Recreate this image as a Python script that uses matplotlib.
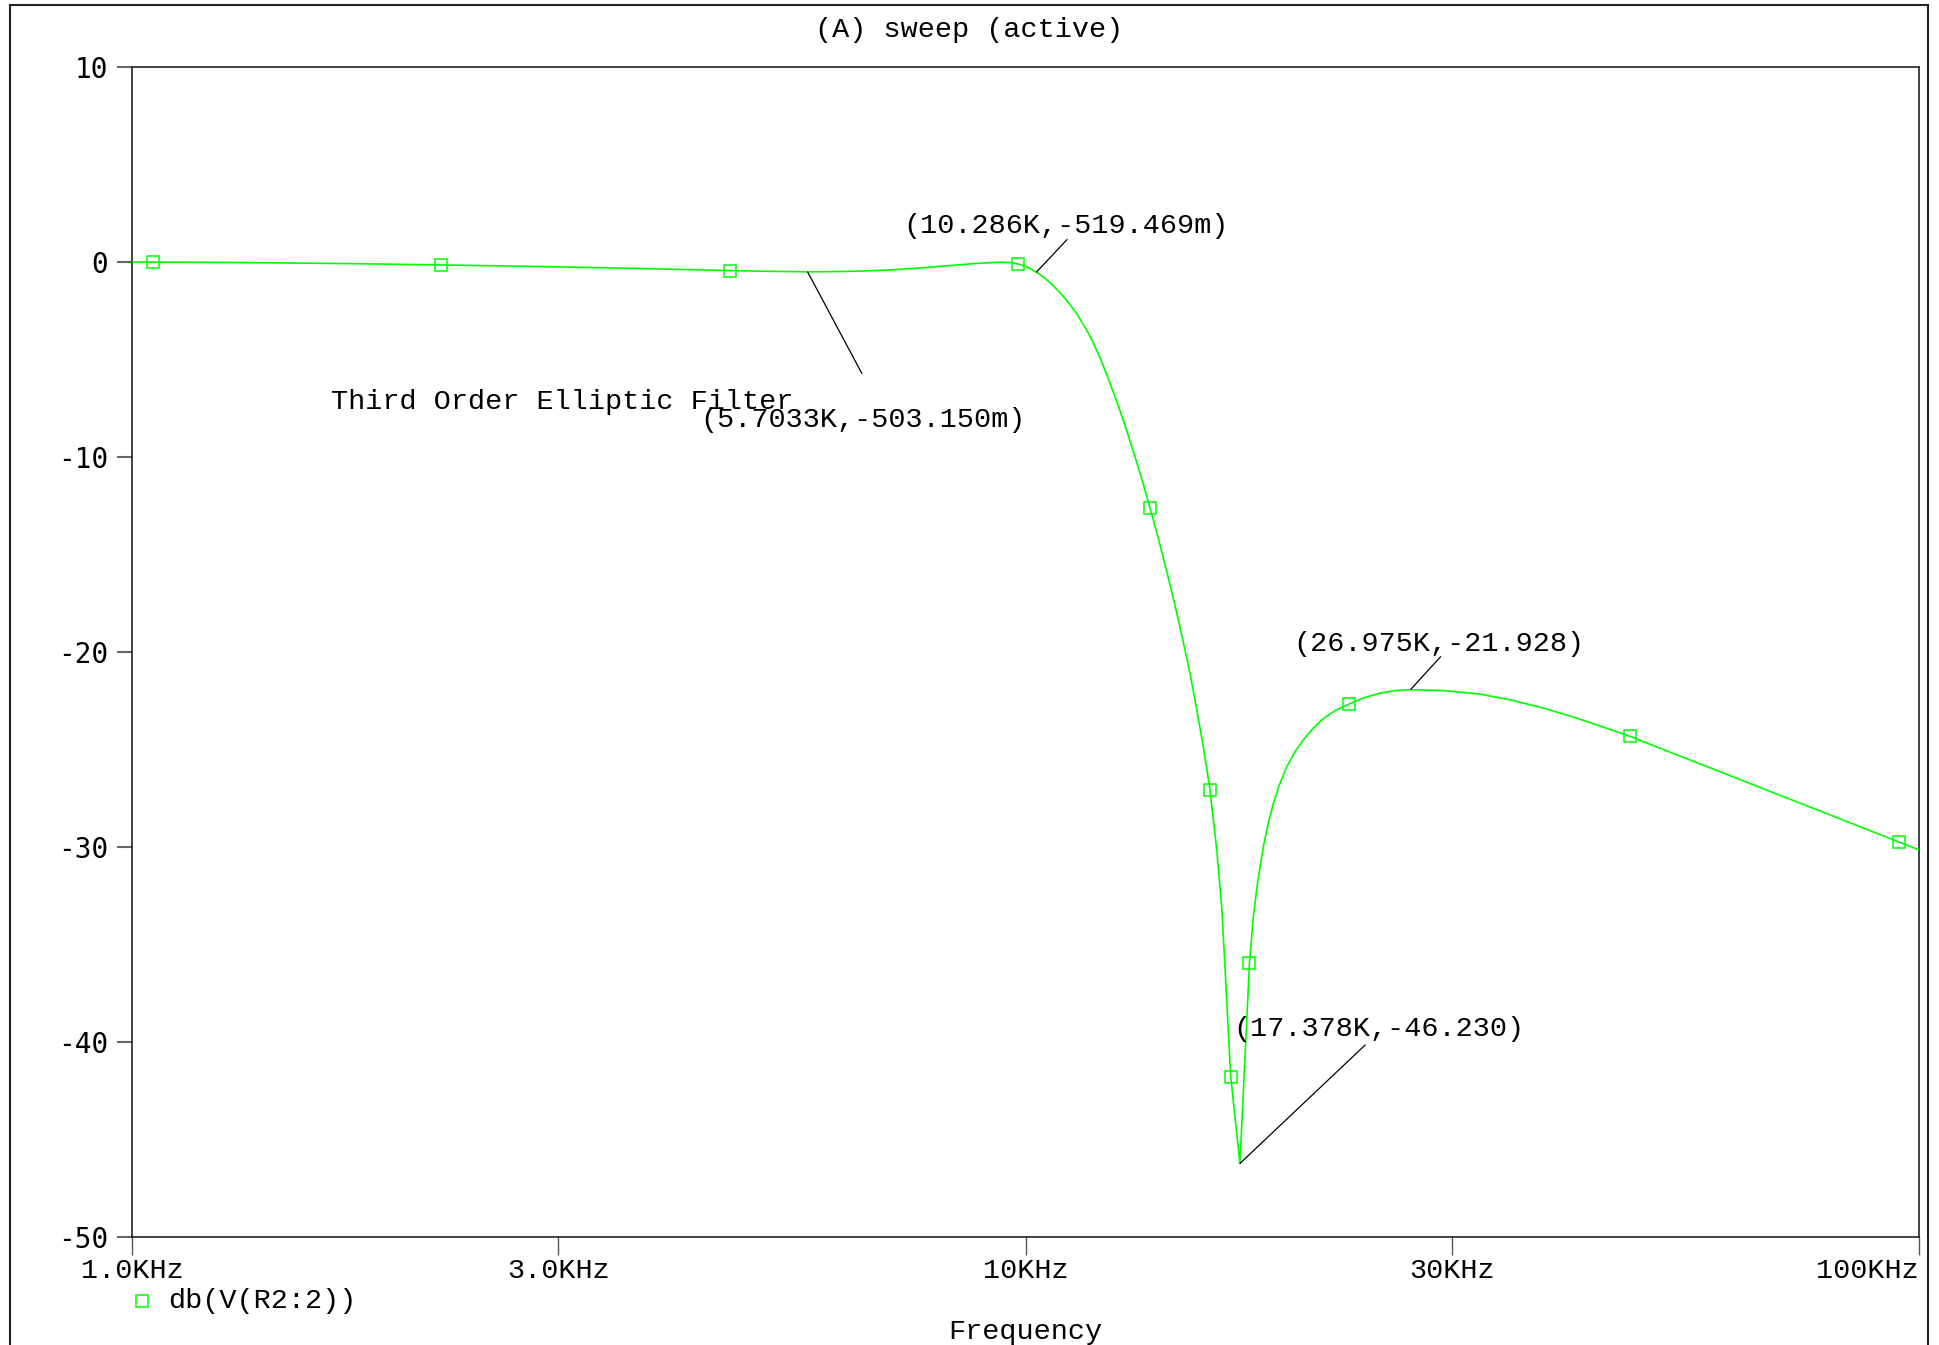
import matplotlib
matplotlib.use("Agg")
import matplotlib.pyplot as plt
from matplotlib.lines import Line2D

# AC sweep of the third order elliptic low-pass: frequency (Hz) and gain (dB)
freq_hz = [1000, 1250, 1500, 1800, 2217, 2600, 3000, 3500, 4000, 4670, 5200,
           5703, 6200, 6700, 7100, 7600, 8090, 8600, 9050, 9400, 9650, 9810,
           10050, 10286, 10500, 10700, 10900, 11120, 11400, 11710, 11900,
           12120, 12380, 12650, 12920, 13200, 13490, 13780, 14080, 14390,
           14700, 15020, 15280, 15540, 15820, 16090, 16370, 16580, 16720,
           16870, 16970, 17378, 17810, 17990, 18200, 18460, 18700, 18940,
           19250, 19600, 20000, 20460, 21000, 21540, 22250, 23010, 23950,
           24930, 25900, 26975, 29600, 32250, 35000, 38000, 41000, 44000,
           47450, 52000, 58300, 66000, 76100, 86000, 94900, 100000]
gain_db = [0.0, -0.02, -0.05, -0.09, -0.15, -0.20, -0.25, -0.31, -0.37, -0.44,
           -0.48, -0.503, -0.49, -0.45, -0.40, -0.31, -0.21, -0.11, -0.04,
           -0.01, -0.04, -0.10, -0.27, -0.519, -0.81, -1.14, -1.52, -1.97,
           -2.62, -3.50, -4.11, -4.93, -5.98, -7.15, -8.36, -9.70, -11.10,
           -12.60, -14.15, -15.86, -17.60, -19.50, -21.10, -22.90, -24.90,
           -27.10, -30.15, -33.06, -36.14, -39.55, -41.78, -46.23, -35.97,
           -33.57, -31.70, -29.98, -28.75, -27.76, -26.78, -25.90, -25.16,
           -24.51, -23.89, -23.42, -22.98, -22.67, -22.34, -22.11, -21.98,
           -21.928, -21.99, -22.16, -22.47, -22.88, -23.33, -23.80, -24.32,
           -25.04, -25.93, -26.90, -28.01, -28.97, -29.74, -30.15]

# trace symbols placed along the curve
marker_hz = [1055, 2217, 4670, 9810, 13780, 16090, 16970, 17810, 23010, 47450, 94900]
marker_db = [-0.01, -0.15, -0.44, -0.10, -12.60, -27.10, -41.78, -35.97, -22.67,
             -24.32, -29.74]

# cursor marks: point on the trace, label text, label anchor, leader end
cursor_hz = [10286, 5703, 26975, 17378]
cursor_db = [-0.519, -0.503, -21.928, -46.23]
cursor_text = ["(10.286K,-519.469m)", "(5.7033K,-503.150m)",
               "(26.975K,-21.928)", "(17.378K,-46.230)"]
cursor_text_hz = [7290, 4320, 19950, 17070]
cursor_text_db = [1.85, -8.10, -19.59, -39.33]
leader_end_hz = [11130, 6560, 29150, 24000]
leader_end_db = [1.15, -5.72, -20.24, -40.15]

title_text = "(A) sweep (active)"
note_text = "Third Order Elliptic Filter"
note_hz, note_db = 1670, -7.18
trace_name = "db(V(R2:2))"
x_label = "Frequency"

x_ticks = [1000, 3000, 10000, 30000, 100000]
x_tick_labels = ["1.0KHz", "3.0KHz", "10KHz", "30KHz", "100KHz"]
y_ticks = [10, 0, -10, -20, -30, -40, -50]
y_tick_labels = ["10", "0", "-10", "-20", "-30", "-40", "-50"]

W, H = 1939, 1345
GREEN = "#00ff00"
MONO = "Liberation Mono"
FS = 20.5

fig = plt.figure(figsize=(W / 100, H / 100), dpi=100)
fig.patch.set_facecolor("white")
ax = fig.add_axes([132 / W, 1 - 1237 / H, (1919 - 132) / W, (1237 - 67) / H])

ax.plot(freq_hz, gain_db, color=GREEN, lw=1.2, zorder=3, clip_on=True)
ax.plot(marker_hz, marker_db, ls="none", marker="s", ms=8, mfc="none",
        mec=GREEN, mew=1.1, zorder=4)

ax.set_xscale("log")
ax.set_xlim(1000, 100000)
ax.set_ylim(-50, 10)
ax.minorticks_off()
ax.set_xticks(x_ticks)
ax.set_xticklabels(x_tick_labels, fontfamily=MONO, fontsize=FS)
ax.set_yticks(y_ticks)
ax.set_yticklabels(y_tick_labels, fontfamily="DejaVu Sans Mono", fontsize=20)
ax.get_xticklabels()[-1].set_horizontalalignment("right")
ax.tick_params(axis="x", direction="out", length=13, width=1, color="#555555", pad=2)
ax.tick_params(axis="y", direction="out", length=11, width=1.5, color="#666666", pad=6)
for side in ["left", "right", "top", "bottom"]:
    ax.spines[side].set_linewidth(1.2)
    ax.spines[side].set_color("#222222")

# cursor leaders and labels
for fx, fy, lx, ly in zip(cursor_hz, cursor_db, leader_end_hz, leader_end_db):
    ax.annotate("", xy=(fx, fy), xytext=(lx, ly),
                arrowprops=dict(arrowstyle="-", color="black", lw=0.9,
                                shrinkA=0, shrinkB=0), zorder=5)
for txt, tx, ty in zip(cursor_text, cursor_text_hz, cursor_text_db):
    ax.text(tx, ty, txt, fontfamily=MONO, fontsize=FS, ha="left", va="center",
            color="black", zorder=6)
ax.text(note_hz, note_db, note_text, fontfamily=MONO, fontsize=FS, ha="left",
        va="center", color="black", zorder=6)

# window title, legend entry and axis name
fig.text(0.5, 1 - 30 / H, title_text, fontfamily=MONO, fontsize=FS,
         ha="center", va="center")
fig.add_artist(Line2D([142 / W], [1 - 1301 / H], marker="s", ms=8, mfc="none",
                      mec=GREEN, mew=1.1, ls="none"))
fig.text(168 / W, 1 - 1301 / H, trace_name, fontfamily=MONO, fontsize=FS,
         ha="left", va="center")
fig.text(1025 / W, 1 - 1332 / H, x_label, fontfamily=MONO, fontsize=FS,
         ha="center", va="center")

# outer window frame
frame_kw = dict(color="#222222", lw=1.5)
fig.add_artist(Line2D([10 / W, 1928 / W], [1 - 5 / H, 1 - 5 / H], **frame_kw))
fig.add_artist(Line2D([10 / W, 10 / W], [1 - 5 / H, 0], **frame_kw))
fig.add_artist(Line2D([1928 / W, 1928 / W], [1 - 5 / H, 0], **frame_kw))

fig.savefig("out.png", dpi=100, facecolor="white")
